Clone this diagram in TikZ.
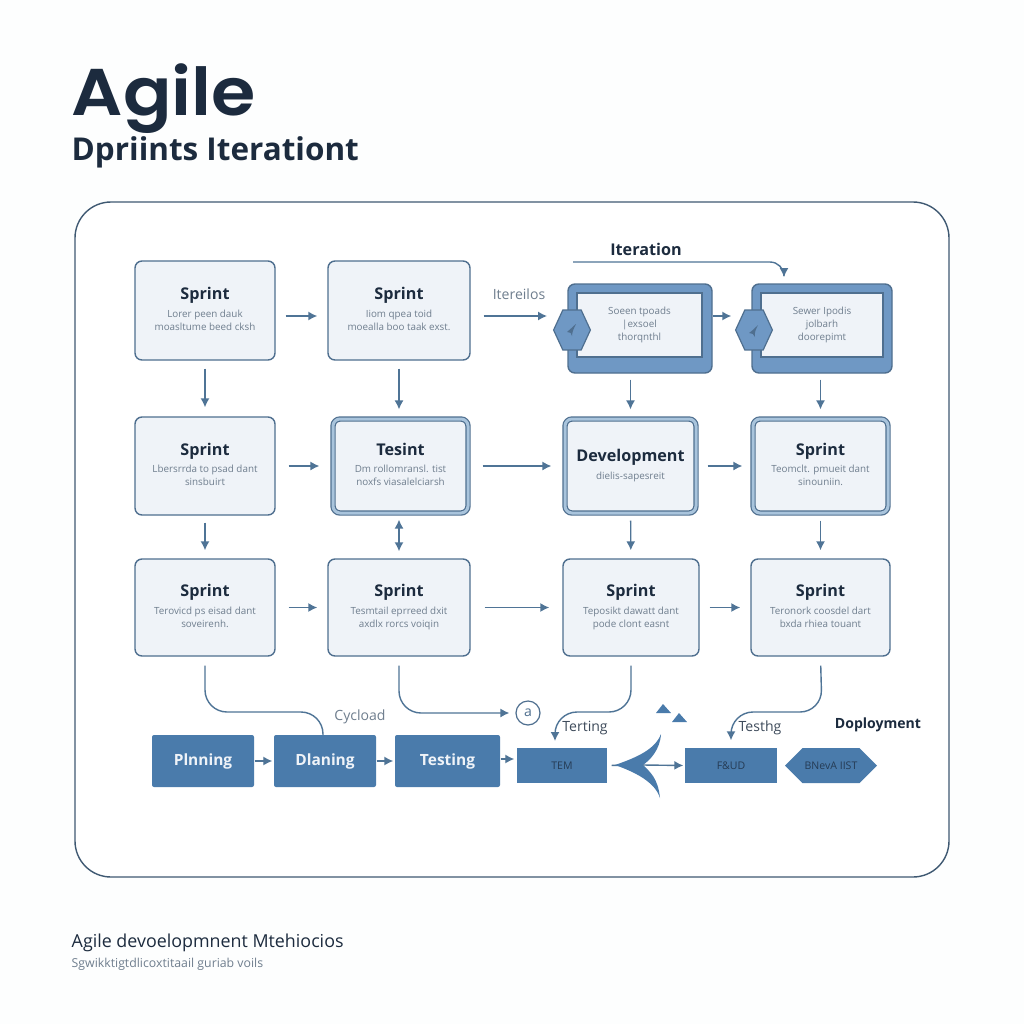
\documentclass[tikz,border=0pt]{standalone}
\usepackage{fontspec}
\setmainfont{Open Sans}
\newfontfamily\titlefont{Poppins SemiBold}
\usepackage{tikz}
\usetikzlibrary{shapes.geometric}
\usetikzlibrary{shapes.symbols}
\usetikzlibrary{arrows.meta}
\definecolor{ink}{HTML}{1C2B3E}
\definecolor{soft}{HTML}{6F7E8E}
\definecolor{edge}{HTML}{4F6F8F}
\definecolor{wire}{HTML}{4F7496}
\definecolor{pale}{HTML}{EFF3F8}
\definecolor{band}{HTML}{A9C4DC}
\definecolor{steel}{HTML}{4A7BAB}
\definecolor{iter}{HTML}{6F98C4}
\newcommand{\headfont}{\fontsize{4.6}{5.5}\selectfont\bfseries\color{ink}}
\newcommand{\bodyfont}{\fontsize{2.8}{3.7}\selectfont\color{soft}}
\newcommand{\boxtext}[2]{{\headfont #1}\\[1.3pt]#2\\[-2.7pt]\mbox{}}
\tikzset{>={Latex[length=.09cm,width=.09cm]}}
\tikzset{
  sprintbox/.style={draw=edge,fill=pale,line width=.014cm,rounded corners=.07cm,inner sep=0pt,align=center,font=\bodyfont},
  doublebox/.style={sprintbox,double=band,double distance=.03cm,line width=.012cm},
  iterbox/.style={draw=edge,fill=iter,line width=.014cm,rounded corners=.07cm,inner sep=0pt},
  iterinner/.style={draw=edge,fill=pale,line width=.012cm,inner sep=0pt,align=center,font=\bodyfont},
  hexnode/.style={draw=edge,fill=iter,line width=.012cm,regular polygon,regular polygon sides=6,minimum size=.46cm,xscale=.8,transform shape,inner sep=0pt},
  planbox/.style={fill=steel,rounded corners=.02cm,inner sep=0pt,text=pale,font=\fontsize{4.4}{5}\selectfont\bfseries},
  taskbox/.style={fill=steel,inner sep=0pt,text=ink!80!steel,font=\fontsize{3}{4}\selectfont},
  flow/.style={->,wire,line width=.014cm},
  curve/.style={wire,line width=.014cm,rounded corners=.22cm},
  tag/.style={inner sep=0pt,font=\fontsize{4}{4.5}\selectfont,text=ink!85!white}
}
\begin{document}
\begin{tikzpicture}[y=-1cm]
      \useasboundingbox (0,0) rectangle (10.24,10.24);
      \fill[white!70!pale!30!white] (0,0) rectangle (10.24,10.24);
      \node (title) at (0.71,1.15) [anchor=base west,inner sep=0pt,xscale=1.085,transform shape,text=ink,font=\titlefont\fontsize{18.8}{20}\selectfont] {Agile};
      \node (subtitle) at (0.71,1.52) [anchor=west,inner sep=0pt,text=ink,font=\fontsize{8.95}{9.5}\selectfont\bfseries] {Dpriints Iterationt};
      \node (frame) at (5.12,5.395) [draw=edge!80!black,fill=white,line width=.014cm,rounded corners=.36cm,minimum width=8.74cm,minimum height=6.75cm] {};
      % sprint grid
      \node (s11) at (2.05,3.105) [sprintbox,minimum width=1.4cm,minimum height=.99cm] {\boxtext{Sprint}{Lorer peen dauk\\moasltume beed cksh}};
      \node (s12) at (3.99,3.105) [sprintbox,minimum width=1.42cm,minimum height=.99cm] {\boxtext{Sprint}{Iiom qpea toid\\moealla boo taak exst.}};
      \node (s21) at (2.05,4.66) [sprintbox,minimum width=1.4cm,minimum height=.98cm] {\boxtext{Sprint}{Lbersrrda to psad dant\\sinsbuirt}};
      \node (s22) at (4.005,4.66) [doublebox,minimum width=1.35cm,minimum height=.94cm] {\boxtext{Tesint}{Dm rollomransl. tist\\noxfs viasalelciarsh}};
      \node (s23) at (6.305,4.66) [doublebox,minimum width=1.31cm,minimum height=.94cm] {\boxtext{Development}{dielis-sapesreit}};
      \node (s24) at (8.205,4.66) [doublebox,minimum width=1.35cm,minimum height=.94cm] {\boxtext{Sprint}{Teomclt. pmueit dant\\sinouniin.}};
      \node (s31) at (2.05,6.075) [sprintbox,minimum width=1.4cm,minimum height=.97cm] {\boxtext{Sprint}{Terovicd ps eisad dant\\soveirenh.}};
      \node (s32) at (3.99,6.075) [sprintbox,minimum width=1.42cm,minimum height=.97cm] {\boxtext{Sprint}{Tesmtail eprreed dxit\\axdlx rorcs voiqin}};
      \node (s33) at (6.31,6.075) [sprintbox,minimum width=1.36cm,minimum height=.97cm] {\boxtext{Sprint}{Teposikt dawatt dant\\pode clont easnt}};
      \node (s34) at (8.205,6.075) [sprintbox,minimum width=1.39cm,minimum height=.97cm] {\boxtext{Sprint}{Teronork coosdel dart\\bxda rhiea touant}};
      % iteration boxes
      \node (i1) at (6.40,3.285) [iterbox,minimum width=1.44cm,minimum height=.89cm] {};
      \node (i1text) at (6.395,3.25) [iterinner,minimum width=1.25cm,minimum height=.64cm] {Soeen tpoads\\{\textbar}exsoel\\thorqnthl};
      \node (i2) at (8.22,3.285) [iterbox,minimum width=1.40cm,minimum height=.89cm] {};
      \node (i2text) at (8.22,3.25) [iterinner,minimum width=1.22cm,minimum height=.64cm] {Sewer Ipodis\\jolbarh\\doorepimt};
      \node (h1) at (5.72,3.30) [hexnode] {};
      \node (h2) at (7.54,3.30) [hexnode] {};
      \fill[edge] (5.76,3.24) .. controls (5.72,3.27) and (5.70,3.30) .. (5.67,3.32) .. controls (5.70,3.32) and (5.72,3.33) .. (5.72,3.36) .. controls (5.72,3.32) and (5.74,3.28) .. (5.76,3.24);
      \fill[edge] (7.58,3.25) .. controls (7.55,3.28) and (7.52,3.31) .. (7.49,3.33) .. controls (7.52,3.33) and (7.54,3.34) .. (7.55,3.37) .. controls (7.54,3.33) and (7.56,3.29) .. (7.58,3.25);
      \node (iterlabel) at (6.46,2.49) [tag,text=ink,font=\fontsize{4.6}{5}\selectfont\bfseries] {Iteration};
      \node (iterleft) at (5.19,2.94) [tag,text=soft] {Itereilos};
      \coordinate (iterstart) at (5.73,2.62);
      \coordinate (iterend) at (7.84,2.77);
      \draw[flow,rounded corners=.14cm] (iterstart) -| (iterend);
      % bottom row
      \node (p1) at (2.03,7.61) [planbox,minimum width=1.02cm,minimum height=.52cm] {Plnning};
      \node (p2) at (3.25,7.61) [planbox,minimum width=1.02cm,minimum height=.52cm] {Dlaning};
      \node (p3) at (4.475,7.61) [planbox,minimum width=1.05cm,minimum height=.52cm] {Testing};
      \node (t1) at (5.62,7.655) [taskbox,minimum width=.90cm,minimum height=.35cm] {TEM};
      \node (t2) at (7.31,7.655) [taskbox,minimum width=.92cm,minimum height=.35cm] {F\&UD};
      \node (t3) at (8.31,7.655) [signal,signal to=west and east,fill=steel,inner sep=0pt,minimum width=.92cm,minimum height=.35cm,text=ink!80!steel,font=\fontsize{3}{4}\selectfont] {BNevA IIST};
      \node (num) at (5.28,7.13) [draw=edge,circle,line width=.012cm,minimum size=.24cm,inner sep=0pt,text=edge,font=\fontsize{4}{4}\selectfont] {a};
      \node (cycle) at (3.60,7.17) [tag,text=soft] {Cycload};
      \node (test1) at (5.85,7.28) [tag] {Terting};
      \node (test2) at (7.60,7.28) [tag] {Testhg};
      \node (deploy) at (8.78,7.25) [tag,text=ink,font=\fontsize{4}{4.5}\selectfont\bfseries] {Doployment};
      \coordinate (fork) at (6.43,7.65);
      % arrows
      \draw[flow,shorten <=.10cm,shorten >=.10cm] ([yshift=-.055cm]s11.east) -- ([yshift=-.055cm]s12.west);
      \draw[flow,shorten <=.13cm,shorten >=.06cm] ([yshift=-.055cm]s12.east) -- ([yshift=-.055cm]s12.east -| h1.west);
      \draw[flow] ([yshift=.125cm]i1.east) -- ([yshift=.125cm,xshift=-.20cm]i2.west);
      \draw[flow,shorten <=.08cm,shorten >=.09cm] (s11) -- (s21);
      \draw[flow,shorten <=.08cm,shorten >=.09cm] (s12.south) -- (s12.south |- s22.north);
      \draw[flow,shorten <=.06cm,shorten >=.09cm] (s23.north |- i1.south) -- (s23.north);
      \draw[flow,shorten <=.06cm,shorten >=.09cm] (s24.north |- i2.south) -- (s24.north);
      \draw[flow,shorten <=.13cm,shorten >=.13cm] (s21.east) -- (s22.west);
      \draw[flow,shorten <=.14cm,shorten >=.13cm] (s22.east) -- (s23.west);
      \draw[flow,shorten <=.11cm,shorten >=.10cm] (s23.east) -- (s24.west);
      \draw[flow,shorten <=.07cm,shorten >=.08cm] (s21) -- (s31);
      \draw[flow,<->,shorten <=.07cm,shorten >=.06cm] (s32.north) -- (s32.north |- s22.south);
      \draw[flow,shorten <=.07cm,shorten >=.08cm] (s23) -- (s33);
      \draw[flow,shorten <=.07cm,shorten >=.08cm] (s24) -- (s34);
      \draw[flow,shorten <=.13cm,shorten >=.10cm] (s31.east) -- (s32.west);
      \draw[flow,shorten <=.14cm,shorten >=.13cm] (s32.east) -- (s33.west);
      \draw[flow,shorten <=.10cm,shorten >=.10cm] (s33.east) -- (s34.west);
      \draw[curve,shorten <=.09cm] (s31.south) |- (3.23,7.12) -- (3.23,7.35);
      \draw[curve,->,shorten <=.09cm,shorten >=.06cm] (s32.south) |- (num.west);
      \draw[curve,->,shorten <=.09cm,shorten >=.07cm] (s33.south) -- (6.31,7.12) -- (5.55,7.12) -- (5.55,7.48);
      \draw[curve,->,shorten <=.09cm,shorten >=.07cm] (s34.south) -- (8.22,7.12) -- (7.31,7.12) -- (t2.north);
      \draw[flow,shorten >=.01cm] (p1) -- (p2);
      \draw[flow,shorten >=.01cm] (p2) -- (p3);
      \draw[flow,shorten >=.02cm] ([yshift=.02cm]p3.east) -- ([yshift=.02cm]p3.east -| t1.west);
      \draw[wire,line width=.014cm,shorten <=.04cm] (t1.east) -- (fork);
      \fill[steel] (6.15,7.65) .. controls (6.35,7.58) and (6.55,7.50) .. (6.61,7.34) .. controls (6.60,7.50) and (6.50,7.60) .. (6.43,7.65) .. controls (6.50,7.72) and (6.58,7.78) .. (6.60,7.98) .. controls (6.55,7.82) and (6.35,7.72) .. (6.15,7.65);
      \draw[flow,shorten >=.01cm] (fork) -- (t2.west);
      \fill[steel] (6.56,7.13) -- (6.63,7.04) -- (6.71,7.13) -- cycle;
      \fill[steel] (6.72,7.22) -- (6.79,7.13) -- (6.87,7.22) -- cycle;
      % footer
      \node (foot1) at (0.71,9.43) [anchor=west,inner sep=0pt,text=ink,font=\fontsize{5.08}{5.5}\selectfont] {Agile devoelopmnent Mtehiocios};
      \node (foot2) at (0.71,9.64) [anchor=west,inner sep=0pt,text=soft,font=\fontsize{3.5}{4}\selectfont] {Sgwikktigtdlicoxtitaail guriab voils};
    \end{tikzpicture}
\end{document}
